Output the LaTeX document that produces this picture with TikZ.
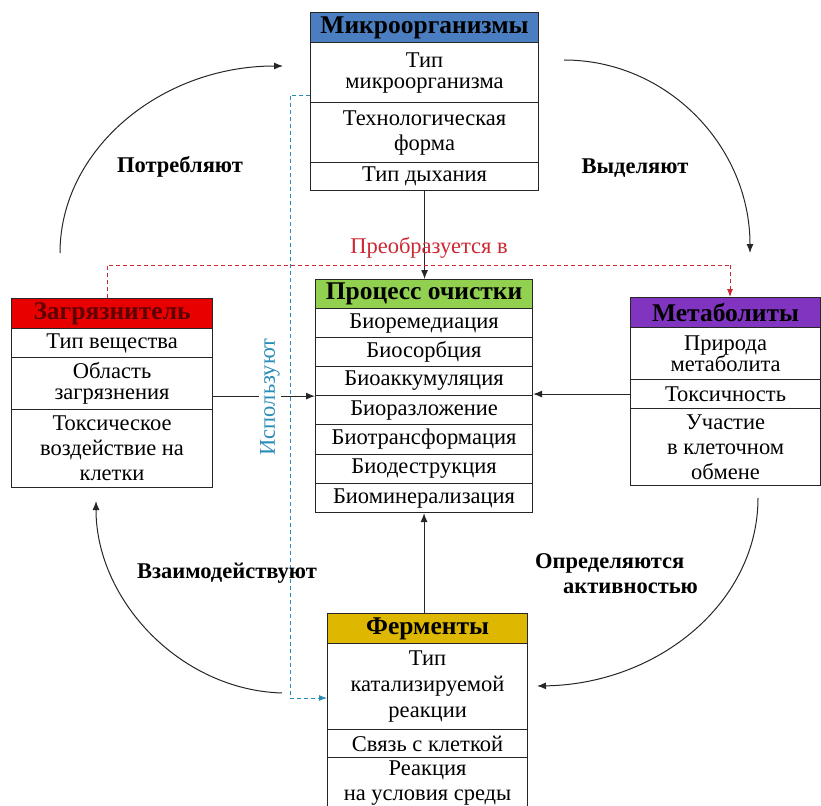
\documentclass[tikz,border=0pt]{standalone}
\usepackage{fontspec}
\setmainfont{Liberation Serif}
\usetikzlibrary{arrows.meta}
\definecolor{hblue}{RGB}{74,126,192}
\definecolor{hred}{RGB}{232,0,0}
\definecolor{hgreen}{RGB}{146,208,80}
\definecolor{hpurple}{RGB}{128,52,192}
\definecolor{hgold}{RGB}{222,184,0}
\definecolor{redline}{RGB}{205,40,50}
\definecolor{blueline}{RGB}{40,140,185}
\definecolor{darkred}{RGB}{95,0,0}
\begin{document}
\begin{tikzpicture}[x=1pt,y=-1pt,
  cell/.style 2 args={draw=black!85, line width=1.1pt, anchor=north west, inner sep=0pt,
    align=center, minimum width=#1pt, minimum height=#2pt, font=\fontsize{22.5}{25}\selectfont},
  tight/.style={font=\fontsize{22.5}{21}\selectfont},
  hdrf/.style={font=\bfseries\fontsize{25.5}{26}\selectfont},
  lbl/.style={font=\bfseries\fontsize{22.5}{25}\selectfont, inner sep=0pt},
  arr/.style={-{Latex[length=9pt,width=7pt]}, line width=1pt, draw=black!85},
  reddash/.style={draw=redline, line width=0.9pt, dash pattern=on 4pt off 3pt},
  bluedash/.style={draw=blueline, line width=0.9pt, dash pattern=on 4pt off 3pt}]
\useasboundingbox (0,0) rectangle (821,805);

% Микроорганизмы
\node[cell={228}{30}, fill=hblue, hdrf] (mh) at (310,12) {Микроорганизмы};
\node[cell={228}{60}, tight] (m1) at (310,42) {Тип\\микроорганизма};
\node[cell={228}{60}] (m2) at (310,102) {Технологическая\\форма};
\node[cell={228}{28}] (m3) at (310,162) {Тип дыхания};

% Загрязнитель
\node[cell={201}{30}, fill=hred, hdrf, text=darkred] (zh) at (11,298) {Загрязнитель};
\node[cell={201}{29}] (z1) at (11,328) {Тип вещества};
\node[cell={201}{52}, tight] (z2) at (11,357) {Область\\загрязнения};
\node[cell={201}{78}] (z3) at (11,409) {Токсическое\\воздействие на\\клетки};

% Процесс очистки
\node[cell={217}{29}, fill=hgreen, hdrf] (ph) at (315,279) {Процесс очистки};
\node[cell={217}{29}] (p1) at (315,308) {Биоремедиация};
\node[cell={217}{29}] (p2) at (315,337) {Биосорбция};
\node[cell={217}{29}] (p3) at (315,366) {Биоаккумуляция};
\node[cell={217}{29}] (p4) at (315,395) {Биоразложение};
\node[cell={217}{30}] (p5) at (315,424) {Биотрансформация};
\node[cell={217}{29}] (p6) at (315,454) {Биодеструкция};
\node[cell={217}{29}] (p7) at (315,483) {Биоминерализация};

% Метаболиты
\node[cell={190}{30}, fill=hpurple, hdrf] (bh) at (630,297) {Метаболиты};
\node[cell={190}{52}, tight] (b1) at (630,327) {Природа\\метаболита};
\node[cell={190}{29}] (b2) at (630,379) {Токсичность};
\node[cell={190}{77}] (b3) at (630,408) {Участие\\в клеточном\\обмене};

% Ферменты
\node[cell={200}{30}, fill=hgold, hdrf] (fh) at (327,613) {Ферменты};
\node[cell={200}{86}, font=\fontsize{22.5}{26}\selectfont] (f1) at (327,643) {Тип\\катализируемой\\реакции};
\node[cell={200}{28}] (f2) at (327,729) {Связь с клеткой};
\node[cell={200}{52}] (f3) at (327,757) {Реакция\\на условия среды};

% straight connectors
\draw[arr] (m3.south) -- (m3.south |- ph.north);
\draw[arr] (fh.north -| p7.south) -- (p7.south);
\draw[arr] (z2.east |- p3.south west) -- (p3.south west);
\draw[arr] (b2.west) -- (b2.west -| p3.east);

% red dashed
\coordinate (r1) at (107,265);
\coordinate (r2) at (730,265);
\draw[reddash] (r1 |- zh.north) -- (r1) -- (r2);
\draw[reddash, -{Latex[length=8pt,width=6pt]}, redline] (r2) -- (r2 |- bh.north);
\node[text=redline, font=\fontsize{22.5}{25}\selectfont, inner sep=0pt] (lr) at (429,248) {Преобразуется в};

% blue dashed
\coordinate (c1) at (290,95);
\coordinate (c2) at (290,698);
\draw[bluedash, -{Latex[length=8pt,width=6pt]}, blueline] (c1 -| m1.west) -- (c1) -- (c2) -- (c2 -| f1.west);
\node[text=blueline, fill=white, rotate=90, font=\fontsize{22.5}{25}\selectfont, inner sep=1pt] (lb) at (270,397) {Используют};

% arcs
\coordinate (a1s) at (60,253); \coordinate (a1e) at (283,66);
\draw[arr] (a1s) .. controls (60,150) and (160,66) .. (a1e);
\node[lbl] (l1) at (180,167) {Потребляют};

\coordinate (a2s) at (564,60); \coordinate (a2e) at (750,253);
\draw[arr] (a2s) .. controls (667,60) and (750,146) .. (a2e);
\node[lbl] (l2) at (635,168) {Выделяют};

\coordinate (a3s) at (758,498); \coordinate (a3e) at (537,686);
\draw[arr] (a3s) .. controls (758,602) and (659,684) .. (a3e);
\node[lbl, align=left, anchor=west] (l3) at (535,574) {Определяются\\\hspace*{28pt}активностью};

\coordinate (a4s) at (282,693); \coordinate (a4e) at (96,501);
\draw[arr] (a4s) .. controls (180,690) and (96,600) .. (a4e);
\node[lbl] (l4) at (227,573) {Взаимодействуют};
\end{tikzpicture}
\end{document}
